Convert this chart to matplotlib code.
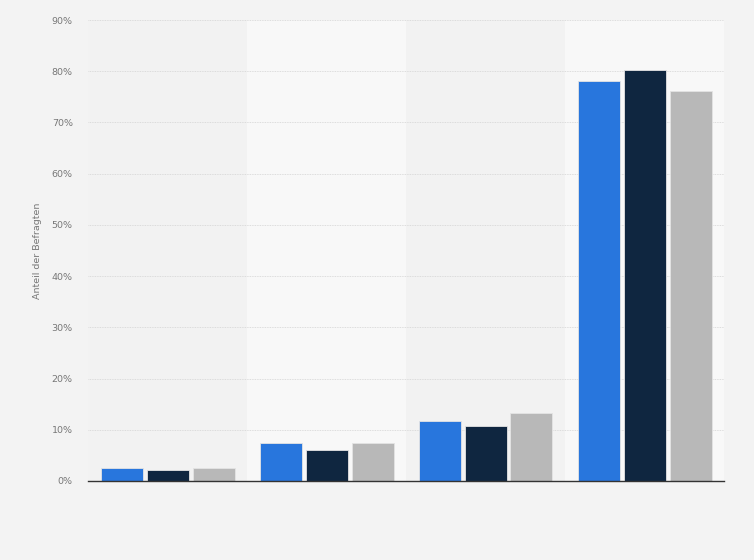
import numpy as np
import matplotlib
matplotlib.use("Agg")
import matplotlib.pyplot as plt

# Werte (in %)
groups = ["1", "2", "3", "4"]
series_a = [2.5, 7.4, 11.7, 78.1]
series_b = [2.1, 6.1, 10.7, 80.3]
series_c = [2.5, 7.4, 13.3, 76.2]
y_ticks = [0, 10, 20, 30, 40, 50, 60, 70, 80, 90]

colors = ["#2876dd", "#0f2640", "#b8b8b8"]

fig = plt.figure(figsize=(7.54, 5.6), dpi=100, facecolor="#f3f3f3")
ax = fig.add_axes([88 / 754, 79 / 560, 636 / 754, 461 / 560])
ax.set_facecolor("#f3f3f3")

x = np.arange(len(groups))
for i in range(len(groups)):
    ax.axvspan(i - 0.5, i + 0.5, color="#f8f8f8" if i % 2 else "#f2f2f2", zorder=0, lw=0)

w = 42 / 159
step = 46 / 159
for k, (vals, c) in enumerate(zip([series_a, series_b, series_c], colors)):
    ax.bar(x + (k - 1) * step, vals, width=w, color=c, edgecolor="#e4e4e4",
           linewidth=0.6, zorder=3)

ax.set_xlim(-0.5, len(groups) - 0.5)
ax.set_ylim(0, 90)
ax.set_yticks(y_ticks)
ax.set_yticklabels([f"{t}%" for t in y_ticks])
ax.yaxis.grid(True, color="#d4d4d4", linestyle=(0, (1, 1)), linewidth=0.6, zorder=1)
ax.set_axisbelow(True)
ax.tick_params(axis="y", length=0, labelsize=6.8, labelcolor="#777777", pad=11)
ax.tick_params(axis="x", length=0, labelbottom=False)
for s in ["top", "right", "left"]:
    ax.spines[s].set_visible(False)
ax.spines["bottom"].set_color("#333333")
ax.spines["bottom"].set_linewidth(1.0)
ax.spines["bottom"].set_zorder(4)

ax.set_ylabel("Anteil der Befragten", fontsize=6.8, color="#777777", labelpad=7)

fig.savefig("out.png", dpi=100, facecolor=fig.get_facecolor())
